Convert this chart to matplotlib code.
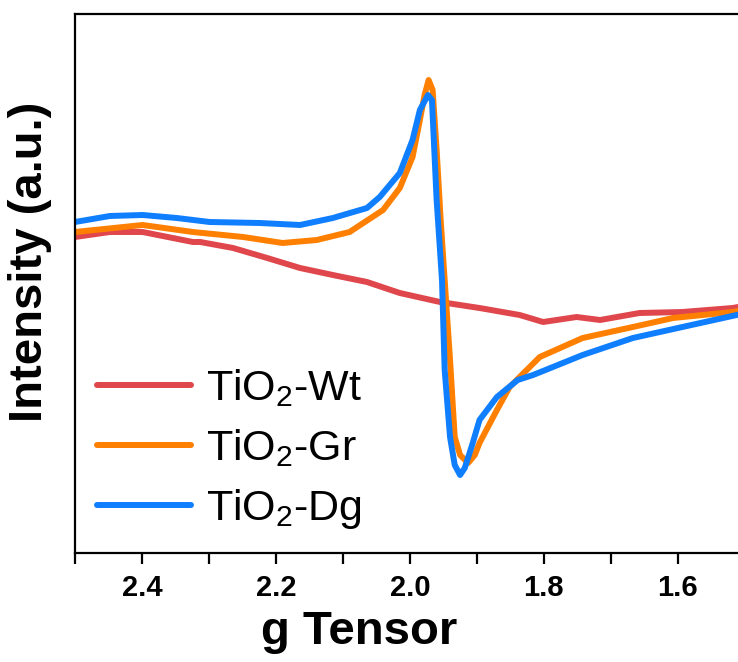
import matplotlib
matplotlib.use("Agg")
import matplotlib.pyplot as plt
from matplotlib.ticker import MultipleLocator

plt.rcParams['font.family'] = ['Liberation Sans', 'DejaVu Sans']
plt.rcParams['mathtext.default'] = 'regular'

# g values and intensities (a.u.)
g_wt = [2.500, 2.448, 2.399, 2.324, 2.313, 2.264, 2.213, 2.164, 2.115, 2.064, 2.015,
        1.955, 1.896, 1.836, 1.801, 1.751, 1.716, 1.657, 1.593, 1.518, 1.510]
i_wt = [316, 321, 321, 311, 311, 305, 295, 285, 278, 271, 260,
        251, 245, 238, 231, 236, 233, 240, 241, 245, 246]

g_gr = [2.500, 2.399, 2.324, 2.249, 2.190, 2.139, 2.090, 2.040, 2.015, 1.996, 1.985,
        1.978, 1.972, 1.966, 1.960, 1.954, 1.948, 1.940, 1.933, 1.925, 1.913, 1.903,
        1.896, 1.870, 1.851, 1.806, 1.742, 1.667, 1.607, 1.518, 1.510]
i_gr = [321, 328, 321, 316, 310, 313, 321, 343, 365, 396, 433,
        458, 473, 463, 403, 333, 273, 193, 116, 98, 90, 98,
        110, 143, 166, 196, 215, 226, 235, 241, 242]

g_dg = [2.500, 2.448, 2.399, 2.348, 2.299, 2.224, 2.164, 2.115, 2.064, 2.045, 2.015,
        1.996, 1.985, 1.973, 1.967, 1.960, 1.952, 1.948, 1.940, 1.933, 1.925, 1.918,
        1.907, 1.896, 1.870, 1.839, 1.816, 1.742, 1.667, 1.593, 1.512, 1.505]
i_dg = [331, 337, 338, 335, 331, 330, 328, 335, 345, 356, 380,
        413, 443, 458, 453, 353, 273, 183, 116, 88, 78, 85,
        108, 133, 156, 173, 178, 198, 215, 226, 238, 239]

labels = ['TiO$_2$-Wt', 'TiO$_2$-Gr', 'TiO$_2$-Dg']
colors = ['#E0474C', '#FF8000', '#0F7FFF']

fig = plt.figure(figsize=(7.38, 6.62), dpi=100)
ax = fig.add_axes([75/738, 109/662, 663/738, 539/662])

for g, i, lab, c in zip([g_wt, g_gr, g_dg], [i_wt, i_gr, i_dg], labels, colors):
    ax.plot(g, i, color=c, lw=4.3, label=lab, solid_capstyle='round', solid_joinstyle='round')

ax.set_xlim(2.5, 1.51)
ax.set_ylim(0, 539)
ax.xaxis.set_major_locator(MultipleLocator(0.2))
ax.xaxis.set_minor_locator(MultipleLocator(0.1))
ax.set_yticks([])
ax.spines['right'].set_visible(False)
for s in ['left', 'bottom', 'top']:
    ax.spines[s].set_linewidth(1.6)
ax.tick_params(axis='x', which='both', direction='out', length=8, width=1.6, pad=7)
ax.tick_params(axis='x', labelsize=21)
for t in ax.get_xticklabels():
    t.set_fontweight('bold')

ax.set_xlabel('g Tensor', fontsize=34, fontweight='bold')
ax.xaxis.set_label_coords((359 - 75) / 663, -0.105)
ax.set_ylabel('Intensity (a.u.)', fontsize=34, fontweight='bold')
ax.yaxis.set_label_coords(-0.035, 0.54)

leg = ax.legend(loc='lower left', bbox_to_anchor=(0.0, 0.0), frameon=False, fontsize=31,
                handlelength=2.2, handletextpad=0.35, labelspacing=0.42, borderaxespad=0.2,
                borderpad=0.3)
for line in leg.get_lines():
    line.set_linewidth(4.3)

fig.savefig('out.png', dpi=100)
